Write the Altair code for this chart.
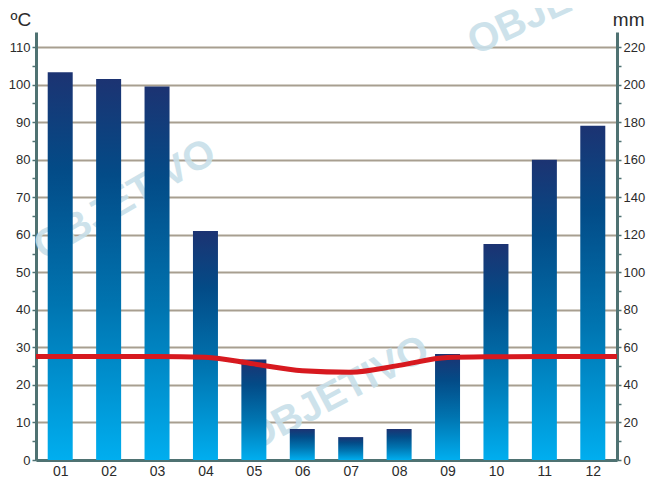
import altair as alt
import pandas as pd

months = [1, 2, 3, 4, 5, 6, 7, 8, 9, 10, 11, 12]
precip_mm = [206.5, 203, 199, 122, 53.5, 16.5, 12.2, 16.5, 56.5, 115, 160, 178]
temp_c = [27.6, 27.6, 27.6, 27.4, 25.6, 23.8, 23.4, 25.2, 27.3, 27.5, 27.6, 27.6]
# the temperature line runs to both edges of the plot at the Jan / Dec level
temp_edge_x = [0.5, 12.5]

c_axis = "#4f7272"
c_grid = "#a89f90"
c_text = "#2b2b2b"
font = "Liberation Sans"

bars_df = pd.DataFrame({"m": months, "mm": precip_mm})
line_df = pd.DataFrame({
    "m": [temp_edge_x[0]] + months + [temp_edge_x[1]],
    "t": [temp_c[0]] + temp_c + [temp_c[-1]],
})

wm_df = pd.DataFrame({"txt": ["OBJETIVO", "OBJETIVO", "OBJETIVO"],
                      "px": [89, 301, 526], "py": [168, 362, -30],
                      "ang": [330, 332, 335]})

xscale = alt.Scale(domain=[0.5, 12.5], nice=False, zero=False, padding=0)

watermark = alt.Chart(wm_df).mark_text(
    font=font, fontWeight="bold", fontSize=40, color="#c8dfe9", opacity=0.9,
    align="center", baseline="middle", clip=False
).encode(
    x=alt.X("px:Q", scale=None),
    y=alt.Y("py:Q", scale=None),
    angle=alt.Angle("ang:Q", scale=None),
    text="txt:N",
)

bars = alt.Chart(bars_df).mark_bar(
    size=25,
    color=alt.Gradient(
        gradient="linear", x1=0, y1=0, x2=0, y2=1,
        stops=[alt.GradientStop(color="#1c3372", offset=0),
               alt.GradientStop(color="#034b87", offset=0.25),
               alt.GradientStop(color="#0075b1", offset=0.6),
               alt.GradientStop(color="#00aeef", offset=1)],
    ),
).encode(
    x=alt.X("m:Q", scale=xscale, axis=alt.Axis(
        values=months, ticks=False, grid=False, title=None,
        labelExpr="datum.value < 10 ? '0' + datum.value : '' + datum.value",
        labelFontSize=14, labelFont=font, labelColor=c_text, labelPadding=4,
        domainColor=c_axis, domainWidth=3)),
    y=alt.Y("mm:Q", scale=alt.Scale(domain=[0, 228], nice=False, padding=0), axis=alt.Axis(
        orient="right", values=list(range(0, 230, 10)), grid=False,
        labelExpr="datum.value % 20 == 0 ? datum.label : ''",
        labelFontSize=13, labelFont=font, labelColor=c_text, labelPadding=2,
        tickSize=4, tickWidth=1.5, tickColor=c_axis,
        domainColor=c_axis, domainWidth=3,
        title="mm", titleAngle=0, titleX=27, titleY=-7, titleAlign="right",
        titleBaseline="alphabetic", titleFontSize=19, titleFontWeight="normal",
        titleFont=font, titleColor=c_text)),
)

line = alt.Chart(line_df).mark_line(
    color="#d7191f", strokeWidth=5, interpolate="monotone"
).encode(
    x=alt.X("m:Q", scale=xscale),
    y=alt.Y("t:Q", scale=alt.Scale(domain=[0, 114], nice=False, padding=0), axis=alt.Axis(
        orient="left", values=list(range(0, 115, 5)), grid=True,
        gridColor=c_grid, gridWidth=2,
        gridOpacity={"condition": {"test": "datum.value % 10 != 0", "value": 0}, "value": 1},
        labelExpr="datum.value % 10 == 0 ? datum.label : ''",
        labelFontSize=13, labelFont=font, labelColor=c_text, labelPadding=2,
        tickSize=4, tickWidth=1.5, tickColor=c_axis,
        domainColor=c_axis, domainWidth=3,
        title="ºC", titleAngle=0, titleX=-26, titleY=-7, titleAlign="left",
        titleBaseline="alphabetic", titleFontSize=19, titleFontWeight="normal",
        titleFont=font, titleColor=c_text)),
)

chart = alt.layer(watermark, bars, line).resolve_scale(y="independent").properties(
    width=581, height=428,
    autosize=alt.AutoSizeParams(type="none"),
    padding={"left": 28, "top": 24, "right": 30, "bottom": 21},
).configure_view(stroke=None)

chart.save("out.html", embed_options={"renderer": "svg", "actions": False})
